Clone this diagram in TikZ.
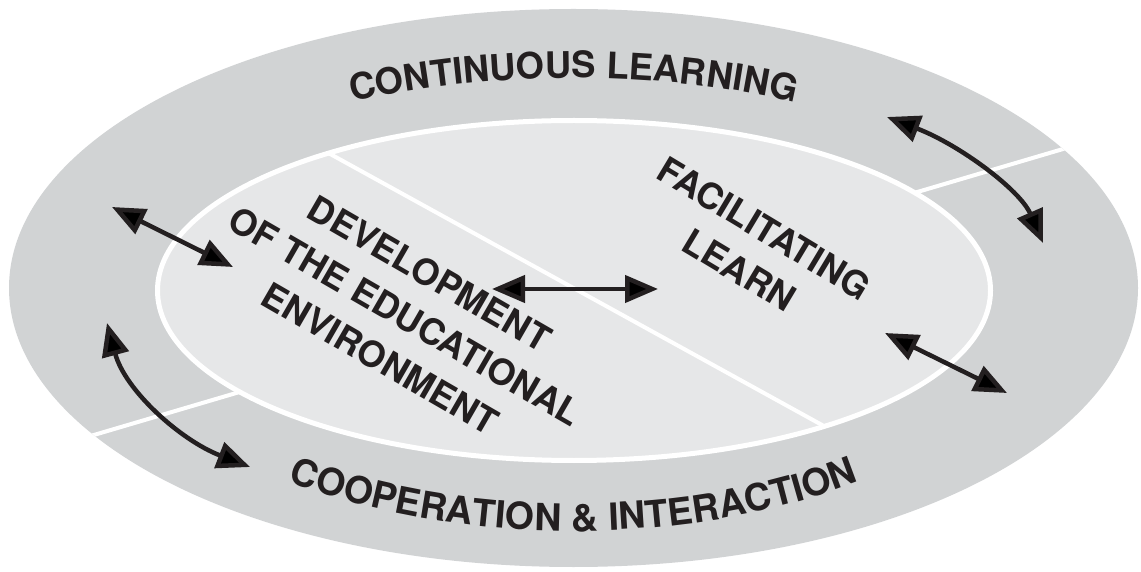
\documentclass[tikz,border=0pt]{standalone}
\usepackage{fontspec}
\setmainfont{TeX Gyre Heros}
\usetikzlibrary{decorations.text,arrows.meta}
\definecolor{ringgray}{HTML}{D1D3D4}
\definecolor{innergray}{HTML}{E6E7E8}
\definecolor{ink}{HTML}{231F20}
\tikzset{
  dbl/.style={draw=ink, line width=4.5pt,
    {Triangle[length=33pt,width=27pt]}-{Triangle[length=33pt,width=27pt]}},
  lbl/.style={font=\fontsize{36}{49}\selectfont\bfseries, text=ink, align=center, inner sep=0pt},
  sepline/.style={white, line width=4pt},
  arctext/.style={decorate, decoration={text along path, text align=center, text color=ink,
    text={#1}}},
}
\begin{document}
\begin{tikzpicture}[x=1pt,y=1pt]
\useasboundingbox (0,0) rectangle (1141,571);
% outer ring
\fill[ringgray] (573.5,283) ellipse [x radius=564.5, y radius=279];
\begin{scope}
  \clip (573.5,283) ellipse [x radius=564.5, y radius=279];
  \draw[sepline] (0,108.3) -- (1141,445);
\end{scope}
% inner ellipse
\filldraw[fill=innergray, draw=white, line width=5pt] (574,280.5) ellipse [x radius=416.5, y radius=170];
\begin{scope}
  \clip (574,280.5) ellipse [x radius=416.5, y radius=170];
  \draw[sepline] (234,470) -- (920,92);
\end{scope}
% ring texts
\path[arctext={|\fontsize{36.5}{36}\selectfont\bfseries|CONTINUOUS LEARNING}]
  (161.27,388) arc[start angle=150, end angle=30, x radius=476, y radius=210];
\path[arctext={|\fontsize{37.5}{36}\selectfont\bfseries|COOPERATION {\&} INTERACTION}]
  (166.5,161.5) arc[start angle=210, end angle=330, x radius=470, y radius=243];
% inner texts
\node[lbl, rotate=-30] (dev) at (405,255) {DEVELOPMENT\\OF THE EDUCATIONAL\\ENVIRONMENT};
\node[lbl, rotate=-31] (fac) at (752,322) {FACILITATING\\LEARN};
% arrows
\coordinate (ur1) at (887,454);
\coordinate (ur2) at (1043,328);
\coordinate (rl1) at (885,238);
\coordinate (rl2) at (1007,178);
\coordinate (lu1) at (112,364);
\coordinate (lu2) at (233,304);
\coordinate (ll1) at (107,248);
\coordinate (ll2) at (250,104);
\coordinate (c1) at (492,282);
\coordinate (c2) at (658,282);
\draw[dbl] (ur1) .. controls (960,426) and (1020,381) .. (ur2);
\draw[dbl] (rl1) -- (rl2);
\draw[dbl] (lu1) -- (lu2);
\draw[dbl] (ll1) .. controls (125,181) and (180,131) .. (ll2);
\draw[dbl] (c1) -- (c2);
\end{tikzpicture}
\end{document}
